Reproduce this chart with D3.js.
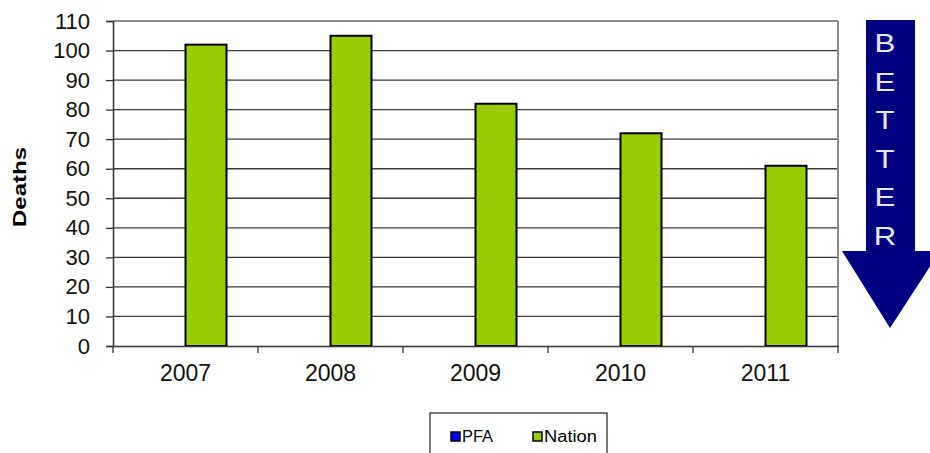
<!DOCTYPE html>
<html><head><meta charset="utf-8">
<script src="https://cdn.jsdelivr.net/npm/d3@7"></script>
<style>body{margin:0;background:#fff}svg{display:block;font-family:"Liberation Sans",Arial,sans-serif}</style>
</head><body><svg id="c" width="930" height="453"></svg>
<script>
const years = ["2007","2008","2009","2010","2011"];
const seriesNames = ["PFA","Nation"];
const pfaValues = [null,null,null,null,null];
const nationValues = [102,105,82,72,61];
const yTicks = [0,10,20,30,40,50,60,70,80,90,100,110];
const colors = {PFA:"#0000ff", Nation:"#99cc00"};
const arrowText = ["B","E","T","T","E","R"];

const svg = d3.select("#c");
const L=113, R=838, T=21, B=346;
const x = d3.scaleBand().domain(years).range([L,R]).paddingInner(0).paddingOuter(0);
const xs = d3.scaleBand().domain(seriesNames).range([0,82]);
const y = d3.scaleLinear().domain([0,110]).range([B,T]);

// gridlines
svg.append("g").selectAll("line").data(yTicks.filter(d=>d>0)).join("line")
  .attr("x1",L).attr("x2",R).attr("y1",d=>y(d)).attr("y2",d=>y(d))
  .attr("stroke",d=>d===110?"#8c8c8c":"#3a3a3a").attr("stroke-width",d=>d===110?2:1.3);
// right border
svg.append("line").attr("x1",R).attr("x2",R).attr("y1",T).attr("y2",B).attr("stroke","#8c8c8c").attr("stroke-width",2);

// bars
const data = years.map((yr,i)=>({yr, PFA:pfaValues[i], Nation:nationValues[i]}));
const g = svg.append("g");
seriesNames.forEach(s=>{
  g.selectAll(null).data(data.filter(d=>d[s]!=null)).join("rect")
    .attr("x",d=>x(d.yr)+x.bandwidth()/2-41+xs(s))
    .attr("width",xs.bandwidth())
    .attr("y",d=>y(d[s])).attr("height",d=>B-y(d[s]))
    .attr("fill",colors[s]).attr("stroke","#000").attr("stroke-width",2);
});

// y axis
const ya = svg.append("g").attr("transform",`translate(${L},0)`)
  .call(d3.axisLeft(y).tickValues(yTicks).tickSize(7).tickPadding(16));
ya.select(".domain").attr("stroke","#333").attr("stroke-width",1.5);
ya.selectAll(".tick line").attr("stroke","#333").attr("stroke-width",1.3);
ya.selectAll("text").attr("font-size",22).attr("fill","#111").attr("font-family","Liberation Sans, Arial, sans-serif");

// x axis
const xa = svg.append("g").attr("transform",`translate(0,${B})`)
  .call(d3.axisBottom(x).tickSize(0).tickPadding(19));
xa.select(".domain").attr("stroke","#333").attr("stroke-width",1.5);
xa.selectAll("text").attr("font-size",23).attr("fill","#111").attr("font-family","Liberation Sans, Arial, sans-serif");
const bounds = years.map(d=>x(d)).concat([R]);
svg.append("g").selectAll("line").data(bounds).join("line")
  .attr("x1",d=>d).attr("x2",d=>d).attr("y1",B).attr("y2",B+7)
  .attr("stroke","#333").attr("stroke-width",1.3);

// y label
svg.append("text").attr("transform","translate(26,187) rotate(-90)")
  .attr("text-anchor","middle").attr("font-size",18).attr("font-weight","bold")
  .attr("textLength",80).attr("lengthAdjust","spacingAndGlyphs").text("Deaths");

// arrow
const arrow = d3.path();
arrow.moveTo(866,20); arrow.lineTo(915,20); arrow.lineTo(915,251); arrow.lineTo(940,251);
arrow.lineTo(890,328); arrow.lineTo(842,251); arrow.lineTo(866,251); arrow.closePath();
svg.append("path").attr("d",arrow.toString()).attr("fill","#000080");
svg.append("g").selectAll("text").data(arrowText).join("text")
  .attr("transform",(d,i)=>`translate(885,${52+i*38.6}) scale(1.2,1)`).attr("text-anchor","middle")
  .attr("font-size",26).attr("fill","#e8e8f4").text(d=>d);

// legend
const lg = svg.append("g");
lg.append("rect").attr("x",430).attr("y",413).attr("width",177).attr("height",50)
  .attr("fill","#fff").attr("stroke","#333").attr("stroke-width",1.3);
const items = [{n:"PFA",x:451,w:31},{n:"Nation",x:533,w:53}];
items.forEach(it=>{
  lg.append("rect").attr("x",it.x).attr("y",432).attr("width",9).attr("height",9)
    .attr("fill",colors[it.n]).attr("stroke","#000").attr("stroke-width",1.5);
  lg.append("text").attr("x",it.x+11).attr("y",442).attr("font-size",16)
    .attr("textLength",it.w).attr("lengthAdjust","spacingAndGlyphs").text(it.n);
});
</script></body></html>
